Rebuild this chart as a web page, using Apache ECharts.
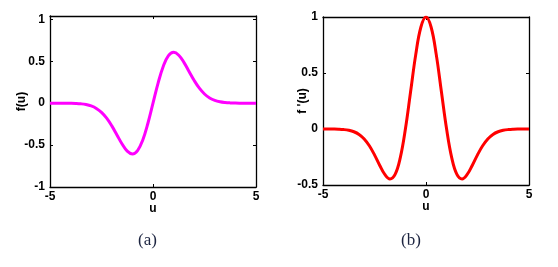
<!DOCTYPE html>
<html>
<head>
<meta charset="utf-8">
<script src="https://cdn.jsdelivr.net/npm/echarts@6/dist/echarts.min.js"></script>
<style>html,body{margin:0;padding:0;background:#fff}#c{width:558px;height:267px}</style>
</head>
<body>
<div id="c"></div>
<script>
const uValues = [-5,-4.75,-4.5,-4.25,-4,-3.75,-3.5,-3.25,-3,-2.75,-2.5,-2.25,-2,-1.75,-1.5,-1.25,-1,-0.75,-0.5,-0.25,0,0.25,0.5,0.75,1,1.25,1.5,1.75,2,2.25,2.5,2.75,3,3.25,3.5,3.75,4,4.25,4.5,4.75,5];
const fValues = [0,-0.0001,-0.0002,-0.0005,-0.0013,-0.0033,-0.0077,-0.0165,-0.0333,-0.0627,-0.1098,-0.179,-0.2707,-0.3785,-0.487,-0.5723,-0.6065,-0.5661,-0.4412,-0.2423,0,0.2423,0.4412,0.5661,0.6065,0.5723,0.487,0.3785,0.2707,0.179,0.1098,0.0627,0.0333,0.0165,0.0077,0.0033,0.0013,0.0005,0.0002,0.0001,0];
const dfValues = [-0.0001,-0.0003,-0.0008,-0.002,-0.005,-0.0115,-0.0246,-0.0486,-0.0889,-0.1496,-0.2307,-0.3232,-0.406,-0.4461,-0.4059,-0.2575,0,0.3302,0.6619,0.9086,1,0.9086,0.6619,0.3302,0,-0.2575,-0.4059,-0.4461,-0.406,-0.3232,-0.2307,-0.1496,-0.0889,-0.0486,-0.0246,-0.0115,-0.005,-0.002,-0.0008,-0.0003,-0.0001];
const xTicks = [-5, 0, 5];
const leftYTicks = [-1, -0.5, 0, 0.5, 1];
const rightYTicks = [-0.5, 0, 0.5, 1];
const labels = {leftY: 'f(u)', rightY: "f '(u)", x: 'u', capA: '(a)', capB: '(b)'};

const font = {fontFamily: 'Liberation Sans', fontWeight: 'bold', fontSize: 12, color: '#000'};
const axLine = {show: true, onZero: false, lineStyle: {color: '#000', width: 1.3}};
const tick = {show: true, inside: true, length: 3, lineStyle: {color: '#000', width: 1}};

function fmt(v){ return String(v); }

const chart = echarts.init(document.getElementById('c'), null, {renderer: 'canvas'});
chart.setOption({
  animation: false,
  backgroundColor: '#fff',
  grid: [
    {left: 50, top: 16, width: 206, height: 171},
    {left: 323, top: 17, width: 206, height: 168}
  ],
  xAxis: [
    {type: 'value', gridIndex: 0, min: -5, max: 5, interval: 5, position: 'bottom',
     axisLine: axLine, axisTick: tick, splitLine: {show: false},
     axisLabel: Object.assign({margin: 4, formatter: fmt}, font),
     name: labels.x, nameLocation: 'middle', nameGap: 16, nameMoveOverlap: false, nameTextStyle: font},
    {type: 'value', gridIndex: 0, min: -5, max: 5, interval: 5, position: 'top',
     axisLine: axLine, axisTick: tick, splitLine: {show: false}, axisLabel: {show: false}},
    {type: 'value', gridIndex: 1, min: -5, max: 5, interval: 5, position: 'bottom',
     axisLine: axLine, axisTick: tick, splitLine: {show: false},
     axisLabel: Object.assign({margin: 4, formatter: fmt}, font),
     name: labels.x, nameLocation: 'middle', nameGap: 16, nameMoveOverlap: false, nameTextStyle: font},
    {type: 'value', gridIndex: 1, min: -5, max: 5, interval: 5, position: 'top',
     axisLine: axLine, axisTick: tick, splitLine: {show: false}, axisLabel: {show: false}}
  ],
  yAxis: [
    {type: 'value', gridIndex: 0, min: -1, max: 1.04, interval: 0.5, position: 'left',
     axisLine: axLine, axisTick: tick, splitLine: {show: false},
     axisLabel: Object.assign({margin: 5, showMaxLabel: false, formatter: fmt}, font),
     name: labels.leftY, nameLocation: 'middle', nameGap: 22, nameMoveOverlap: false, nameTextStyle: font},
    {type: 'value', gridIndex: 0, min: -1, max: 1.04, interval: 0.5, position: 'right',
     axisLine: axLine, axisTick: tick, splitLine: {show: false}, axisLabel: {show: false}},
    {type: 'value', gridIndex: 1, min: -0.5, max: 1, interval: 0.5, position: 'left',
     axisLine: axLine, axisTick: tick, splitLine: {show: false},
     axisLabel: Object.assign({margin: 5, formatter: fmt}, font),
     name: labels.rightY, nameLocation: 'middle', nameGap: 14, nameMoveOverlap: false, nameTextStyle: font},
    {type: 'value', gridIndex: 1, min: -0.5, max: 1, interval: 0.5, position: 'right',
     axisLine: axLine, axisTick: tick, splitLine: {show: false}, axisLabel: {show: false}}
  ],
  series: [
    {type: 'line', xAxisIndex: 0, yAxisIndex: 0, data: uValues.map((u, i) => [u, fValues[i]]),
     smooth: 0.4, showSymbol: false, lineStyle: {color: '#ff00ff', width: 3}},
    {type: 'line', xAxisIndex: 2, yAxisIndex: 2, data: uValues.map((u, i) => [u, dfValues[i]]),
     smooth: 0.4, showSymbol: false, lineStyle: {color: '#ff0000', width: 3}}
  ],
  graphic: [
    {type: 'text', left: 138, top: 232, style: {text: labels.capA, font: '17px "Liberation Serif"', fill: '#1c2440'}},
    {type: 'text', left: 401, top: 232, style: {text: labels.capB, font: '17px "Liberation Serif"', fill: '#1c2440'}}
  ]
});
</script>
</body>
</html>
